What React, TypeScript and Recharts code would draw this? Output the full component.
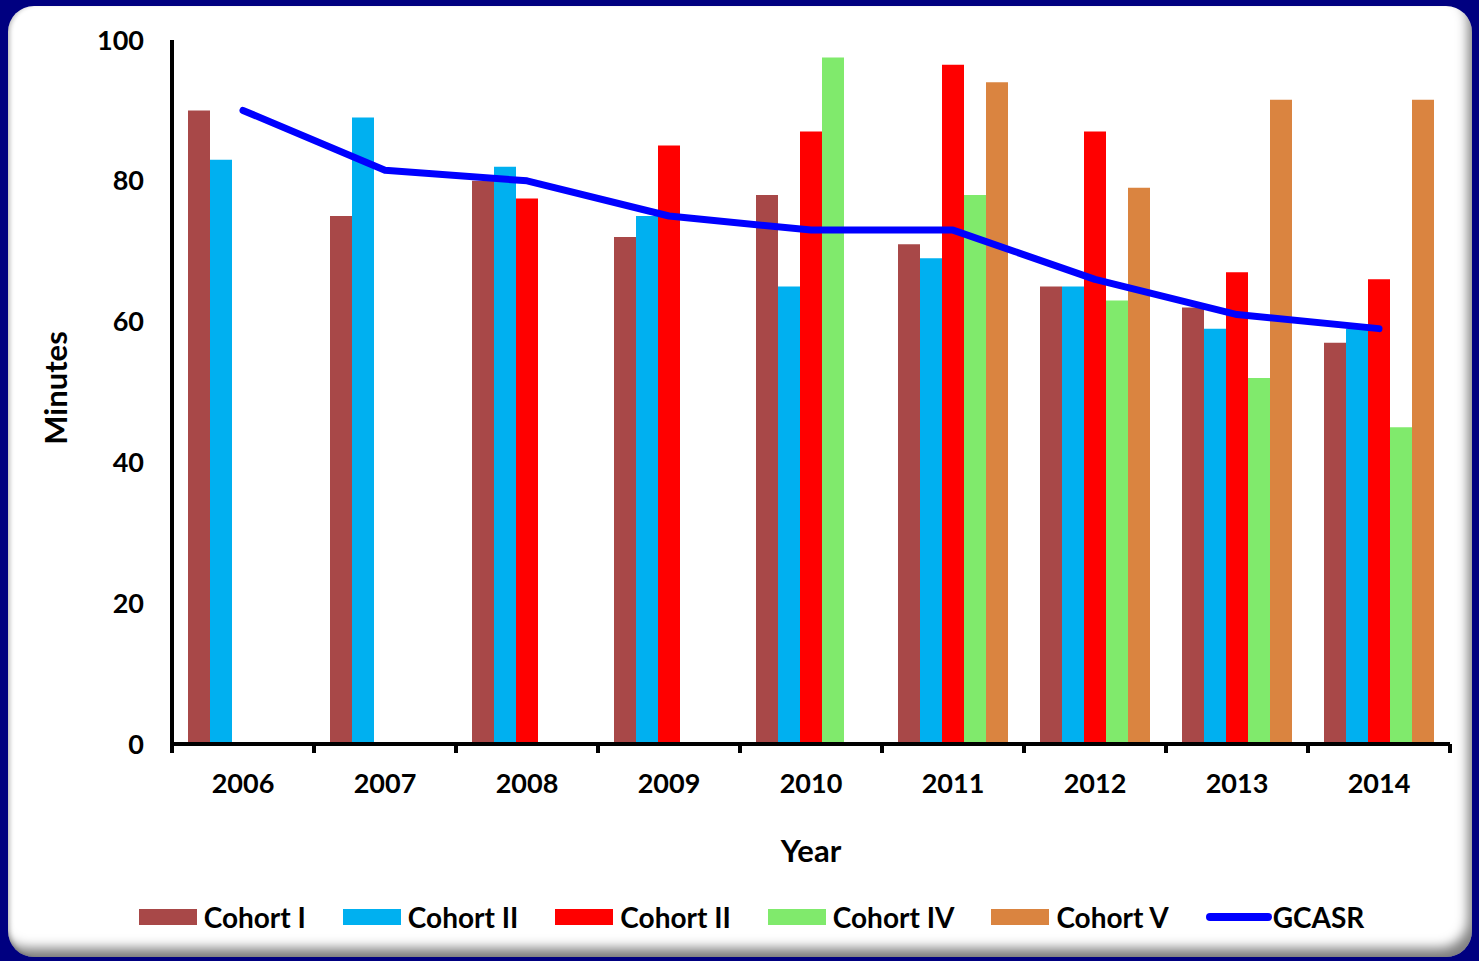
import React from "react";
import { ComposedChart, Bar, Line, XAxis, YAxis, Legend } from "recharts";

const years = ["2006", "2007", "2008", "2009", "2010", "2011", "2012", "2013", "2014"];
const cohortI = [90, 75, 80, 72, 78, 71, 65, 62, 57];
const cohortII = [83, 89, 82, 75, 65, 69, 65, 59, 59];
const cohortIII = [null, null, 77.5, 85, 87, 96.5, 87, 67, 66];
const cohortIV = [null, null, null, null, 97.5, 78, 63, 52, 45];
const cohortV = [null, null, null, null, null, 94, 79, 91.5, 91.5];
const gcasr = [90, 81.5, 80, 75, 73, 73, 66, 61, 59];
const yTicks = [0, 20, 40, 60, 80, 100];

const data = years.map((year, i) => ({
  year,
  c1: cohortI[i],
  c2: cohortII[i],
  c3: cohortIII[i],
  c4: cohortIV[i],
  c5: cohortV[i],
  gcasr: gcasr[i],
}));

const W = 1479;
const H = 961;
const MARGIN = { top: 40, right: 29, left: 0, bottom: 87 };
const Y_AXIS_W = 172;
const X_AXIS_H = 130;
const BAND = (W - MARGIN.left - MARGIN.right - Y_AXIS_W) / years.length;
const FONT = "Lato, 'Open Sans', sans-serif";

type TickProps = { x?: number; y?: number; index?: number; payload?: { value: string } };

// year label centred in the band, tick marks on the band edges
function YearTick({ x = 0, y = 0, index = 0, payload }: TickProps) {
  const left = x - BAND / 2;
  return (
    <g>
      <line x1={left} y1={y} x2={left} y2={y + 9} stroke="#000" strokeWidth={4} />
      {index === years.length - 1 && (
        <line x1={x + BAND / 2} y1={y} x2={x + BAND / 2} y2={y + 9} stroke="#000" strokeWidth={4} />
      )}
      <text x={x} y={y + 49} textAnchor="middle" fontFamily={FONT} fontWeight={700} fontSize={27} fill="#000">
        {payload?.value}
      </text>
    </g>
  );
}

function AxisTitle({ viewBox, text, vertical }: any) {
  const vb = viewBox || { x: 0, y: 0, width: 0, height: 0 };
  if (vertical) {
    const cx = vb.x + 55;
    const cy = vb.y + vb.height / 2 - 4;
    return (
      <text x={cx} y={cy} transform={`rotate(-90 ${cx} ${cy})`} textAnchor="middle" dominantBaseline="central"
        fontFamily={FONT} fontWeight={700} fontSize={31} fill="#000">
        {text}
      </text>
    );
  }
  return (
    <text x={vb.x + vb.width / 2} y={vb.y + 118} textAnchor="middle" fontFamily={FONT} fontWeight={700}
      fontSize={31} fill="#000">
      {text}
    </text>
  );
}

function LegendContent({ payload }: any) {
  return (
    <div style={{ display: "flex", justifyContent: "center", gap: 37, paddingLeft: 24, fontFamily: FONT,
      fontWeight: 700, fontSize: 28, lineHeight: "34px", color: "#000" }}>
      {(payload || []).map((item: any) => (
        <div key={item.value} style={{ display: "flex", alignItems: "center" }}>
          {item.type === "line" ? (
            <span style={{ width: 66, height: 8, borderRadius: 4, background: item.color, marginRight: 1 }} />
          ) : (
            <span style={{ width: 58, height: 16, background: item.color, marginRight: 7 }} />
          )}
          <span>{item.value}</span>
        </div>
      ))}
    </div>
  );
}

export default function App() {
  return (
    <div style={{ position: "fixed", left: 0, top: 0, width: W, height: H, background: "#000080", overflow: "hidden" }}>
      <div style={{ position: "absolute", left: 8, top: 6, width: 1464, height: 951, background: "#fff",
        borderRadius: 26, boxShadow: "inset -7px -12px 12px -3px rgba(0,0,0,0.5), inset 4px 0 4px -2px rgba(0,0,0,0.25)" }} />
      <div style={{ position: "absolute", left: 0, top: 0 }}>
        <ComposedChart width={W} height={H} data={data} margin={MARGIN} barCategoryGap={16} barGap={0}>
          <XAxis dataKey="year" height={X_AXIS_H} axisLine={{ stroke: "#000", strokeWidth: 4 }} tickLine={false}
            tickSize={0} tickMargin={0} interval={0} tick={<YearTick />}
            label={<AxisTitle text="Year" />} />
          <YAxis width={Y_AXIS_W} domain={[0, 100]} ticks={yTicks} interval={0}
            axisLine={{ stroke: "#000", strokeWidth: 4 }} tickLine={false} tickSize={0} tickMargin={28}
            tick={{ fontFamily: FONT, fontWeight: 700, fontSize: 27, fill: "#000" }}
            label={<AxisTitle text="Minutes" vertical />} />
          <Legend layout="horizontal" verticalAlign="middle" align="center" content={<LegendContent />}
            wrapperStyle={{ top: 900, left: 0, width: W }} />
          <Bar dataKey="c1" name="Cohort I" fill="#A84848" isAnimationActive={false} />
          <Bar dataKey="c2" name="Cohort II" fill="#00B0F0" isAnimationActive={false} />
          <Bar dataKey="c3" name="Cohort II " fill="#FF0000" isAnimationActive={false} />
          <Bar dataKey="c4" name="Cohort IV" fill="#80EA6C" isAnimationActive={false} />
          <Bar dataKey="c5" name="Cohort V" fill="#DA8440" isAnimationActive={false} />
          <Line dataKey="gcasr" name="GCASR" type="linear" stroke="#0000FF" strokeWidth={7} dot={false}
            strokeLinecap="round" strokeLinejoin="round" isAnimationActive={false} legendType="line" />
        </ComposedChart>
      </div>
    </div>
  );
}
